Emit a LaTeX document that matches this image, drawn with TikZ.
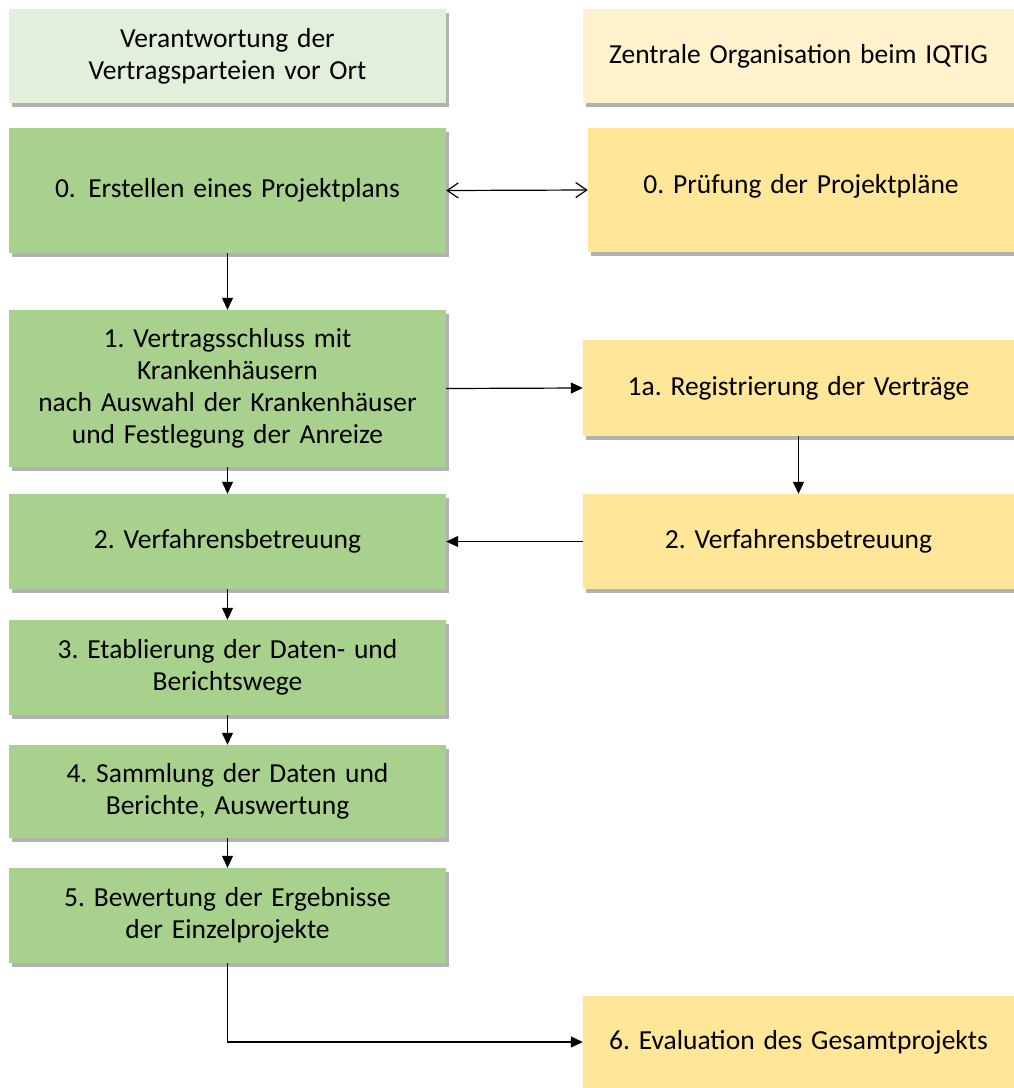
\documentclass[tikz,border=0pt]{standalone}
\usepackage{fontspec}
\setmainfont{Carlito}
\usetikzlibrary{arrows.meta,shadows}
\definecolor{hgreen}{HTML}{E2EFDA}
\definecolor{bgreen}{HTML}{A9D18E}
\definecolor{hyellow}{HTML}{FFF2CC}
\definecolor{byellow}{HTML}{FFE699}
\frenchspacing
\newcommand{\myboxfont}{\fontsize{27.5}{32}\selectfont\spaceskip=0.32em plus 0.1em minus 0.05em\relax}
\begin{document}
\begin{tikzpicture}[x=1pt,y=-1pt,
  box/.style={inner sep=0pt, align=center, font=\myboxfont,
    drop shadow={shadow xshift=3pt, shadow yshift=-4pt, fill=black, opacity=0.3}},
  lbox/.style={box, minimum width=437pt},
  rbox/.style={box, minimum width=431pt},
  arr/.style={line width=1.2pt, -{Triangle[length=12pt,width=11pt]}},
  dbl/.style={line width=1.2pt, {Straight Barb[length=11pt,width=15pt]}-{Straight Barb[length=11pt,width=15pt]}}
]
\useasboundingbox (0,0) rectangle (1014,1088);
% left column
\node[lbox, fill=hgreen, minimum height=94pt] (hl) at (227.5,56) {Verantwortung der\\Vertragsparteien vor Ort};
\node[lbox, fill=bgreen, minimum height=125pt] (b0) at (227.5,190.5) {0.\hspace{0.45em}Erstellen eines Projektplans};
\node[lbox, fill=bgreen, minimum height=157pt] (b1) at (227.5,388.5) {1. Vertragsschluss mit\\Krankenhäusern\\nach Auswahl der Krankenhäuser\\und Festlegung der Anreize};
\node[lbox, fill=bgreen, minimum height=95pt] (b2) at (227.5,541.5) {2. Verfahrensbetreuung};
\node[lbox, fill=bgreen, minimum height=95pt] (b3) at (227.5,667.5) {3. Etablierung der Daten- und\\Berichtswege};
\node[lbox, fill=bgreen, minimum height=93pt] (b4) at (227.5,791.5) {4. Sammlung der Daten und\\Berichte, Auswertung};
\node[lbox, fill=bgreen, minimum height=95pt] (b5) at (227.5,915.5) {5. Bewertung der Ergebnisse\\der Einzelprojekte};
% right column
\node[rbox, fill=hyellow, minimum height=94pt] (hr) at (798.5,56) {Zentrale Organisation beim IQTIG};
\node[box, fill=byellow, minimum width=426pt, minimum height=124pt] (r0) at (801,190) {\raisebox{13pt}{0. Prüfung der Projektpläne}};
\node[rbox, fill=byellow, minimum height=96pt] (r1) at (798.5,388) {1a. Registrierung der Verträge};
\node[rbox, fill=byellow, minimum height=95pt] (r2) at (798.5,541.5) {2. Verfahrensbetreuung};
\node[rbox, fill=byellow, minimum height=92pt] (r6) at (798.5,1042) {6. Evaluation des Gesamtprojekts};
% connectors
\draw[dbl] (b0.east) -- (r0.west);
\draw[arr] (b0.south) -- (b1.north);
\draw[arr] (b1.east) -- (r1.west);
\draw[arr] (r1.south) -- (r2.north);
\draw[arr] (r2.west) -- (b2.east);
\draw[arr] (b1.south) -- (b2.north);
\draw[arr] (b2.south) -- (b3.north);
\draw[arr] (b3.south) -- (b4.north);
\draw[arr] (b4.south) -- (b5.north);
\draw[arr] (b5.south) |- (r6.west);
\end{tikzpicture}
\end{document}
